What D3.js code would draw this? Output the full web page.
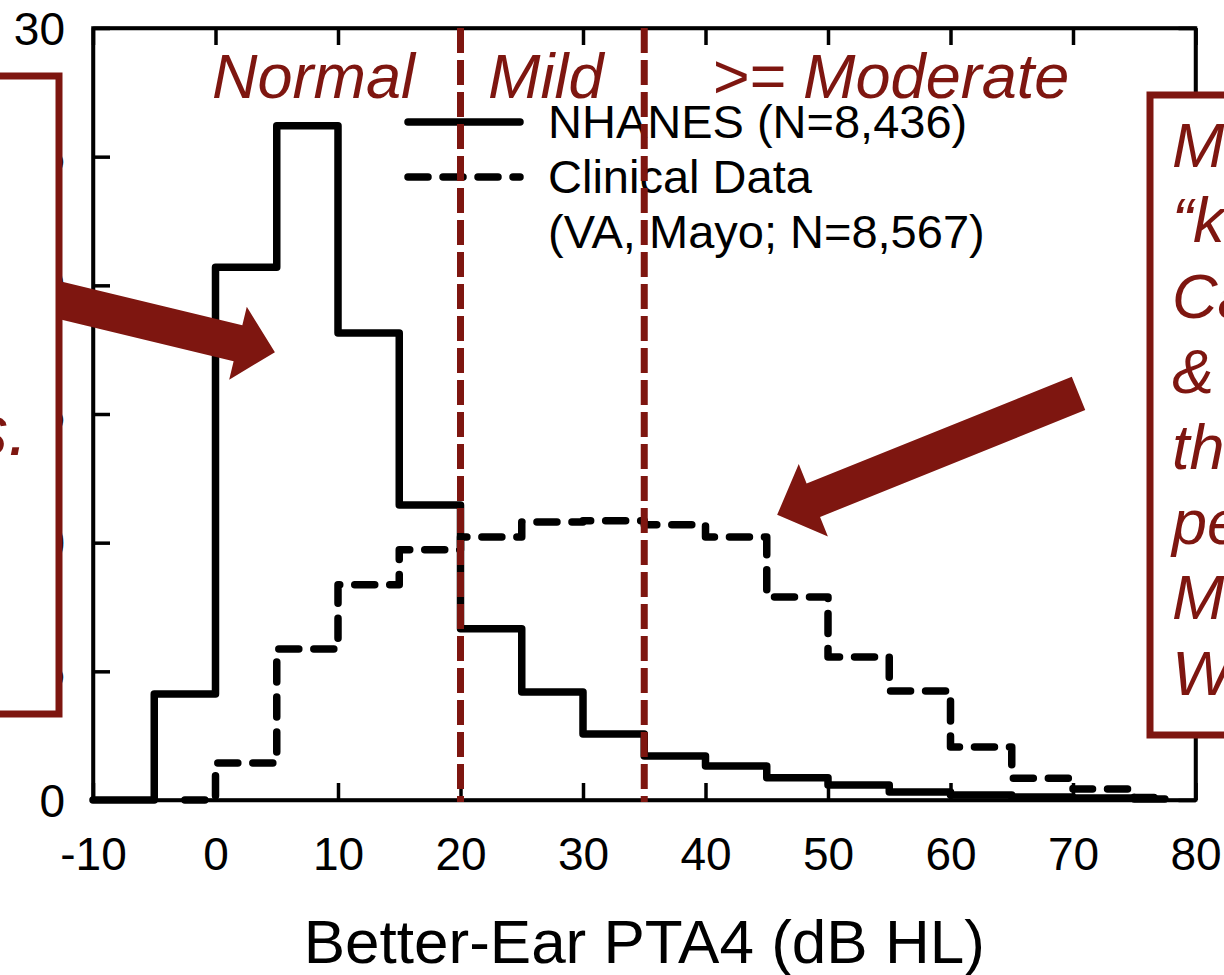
<!DOCTYPE html>
<html>
<head>
<meta charset="utf-8">
<script src="https://cdn.jsdelivr.net/npm/d3@7"></script>
<style>
  html, body { margin: 0; padding: 0; background: #fff; overflow: hidden; }
  svg { display: block; font-family: "Liberation Sans", Arial, Helvetica, sans-serif; }
</style>
</head>
<body>
<svg id="chart" width="1224" height="975"></svg>
<script>
// ---------------- data ----------------
const binStarts = [-10, -5, 0, 5, 10, 15, 20, 25, 30, 35, 40, 45, 50, 55, 60, 65, 70, 75];
const lastEdge = 77.5;
const nhanesPct   = [0, 4.12, 20.7, 26.2, 18.15, 11.46, 6.65, 4.2, 2.56, 1.71, 1.32, 0.86, 0.58, 0.31, 0.19, 0.12, 0.08, 0.04];
const clinicalPct = [null, 0, 1.44, 5.87, 8.36, 9.72, 10.22, 10.8, 10.85, 10.7, 10.22, 7.89, 5.56, 4.24, 2.06, 0.85, 0.43, 0.1];
const nhanesStart = -10;
const clinicalStart = -2.5;
const xTicks = [-10, 0, 10, 20, 30, 40, 50, 60, 70, 80];
const yTicks = [0, 5, 10, 15, 20, 25, 30];
const severityCuts = [20, 35];
const severityLabels = ["Normal", "Mild", ">= Moderate"];
const legendLabels = ["NHANES (N=8,436)", "Clinical Data", "(VA, Mayo; N=8,567)"];
const xTitle = "Better-Ear PTA4 (dB HL)";
const rightBoxLines = ["M", "\u201Ck", "Ca", "&", "th", "pe", "M", "W"];
const leftBoxLines = ["s."];
// arrows in data units [x, y]
const arrowLeft  = { from: [-16, 19.8],  to: [4.85, 17.4] };
const arrowRight = { from: [70.45, 15.8], to: [45.85, 11.08] };

// ---------------- setup ----------------
const RED = "#7E1610";
const svg = d3.select("#chart");
const x = d3.scaleLinear().domain([-10, 80]).range([93, 1195.5]);
const y = d3.scaleLinear().domain([0, 30]).range([800, 28]);
const X0 = x.range()[0], X1 = x.range()[1], Y0 = y.range()[0], Y1 = y.range()[1];

// ---------------- axes frame ----------------
const axisG = svg.append("g");
const tickLen = 17;
const fmt = d => String(d);
const gBottom = axisG.append("g").attr("transform", `translate(0,${Y0})`)
  .call(d3.axisBottom(x).tickValues(xTicks).tickSizeInner(-tickLen).tickSizeOuter(0).tickFormat(fmt));
const gTop = axisG.append("g").attr("transform", `translate(0,${Y1})`)
  .call(d3.axisTop(x).tickValues(xTicks).tickSizeInner(-tickLen).tickSizeOuter(0).tickFormat(""));
const gLeft = axisG.append("g").attr("transform", `translate(${X0},0)`)
  .call(d3.axisLeft(y).tickValues(yTicks).tickSizeInner(-tickLen).tickSizeOuter(0).tickFormat(fmt));
const gRight = axisG.append("g").attr("transform", `translate(${X1},0)`)
  .call(d3.axisRight(y).tickValues(yTicks).tickSizeInner(-tickLen).tickSizeOuter(0).tickFormat(""));
axisG.selectAll(".domain").attr("stroke", "#000").attr("stroke-width", 3.5);
axisG.selectAll(".tick line").attr("stroke", "#000").attr("stroke-width", 3.5);
axisG.selectAll(".tick text").attr("fill", "#000").attr("font-size", 46)
  .attr("font-family", "Liberation Sans, Arial, sans-serif");
gBottom.selectAll(".tick text").attr("dy", null).attr("y", 70);
gLeft.selectAll(".tick text").attr("dy", "0.35em").attr("x", -28);
axisG.append("rect").attr("x", X0).attr("y", Y1).attr("width", X1 - X0).attr("height", Y0 - Y1)
  .attr("fill", "none").attr("stroke", "#000").attr("stroke-width", 3.5);

// axis title
svg.append("text").attr("x", (X0 + X1) / 2).attr("y", 963).attr("text-anchor", "middle")
  .attr("font-size", 62).attr("fill", "#000").text(xTitle);

// ---------------- histograms ----------------
function stepPoints(vals, start) {
  const pts = [];
  binStarts.forEach((b, i) => {
    if (vals[i] === null) return;
    pts.push([Math.max(b, start), vals[i]]);
  });
  pts.push([lastEdge, vals[vals.length - 1]]);
  return pts;
}
const line = d3.line().x(d => x(d[0])).y(d => y(d[1])).curve(d3.curveStepAfter);
svg.append("path").attr("d", line(stepPoints(nhanesPct, nhanesStart)))
  .attr("fill", "none").attr("stroke", "#000").attr("stroke-width", 7.5)
  .attr("stroke-linejoin", "round").attr("stroke-linecap", "round");
svg.append("path").attr("d", line(stepPoints(clinicalPct, clinicalStart)))
  .attr("fill", "none").attr("stroke", "#000").attr("stroke-width", 7.5)
  .attr("stroke-dasharray", "20,15")
  .attr("stroke-linejoin", "round").attr("stroke-linecap", "round");

// ---------------- legend ----------------
const lg = svg.append("g");
lg.append("line").attr("x1", 408).attr("x2", 520).attr("y1", 122).attr("y2", 122)
  .attr("stroke", "#000").attr("stroke-width", 7.5).attr("stroke-linecap", "round");
lg.append("line").attr("x1", 408).attr("x2", 520).attr("y1", 177).attr("y2", 177)
  .attr("stroke", "#000").attr("stroke-width", 7.5).attr("stroke-linecap", "round")
  .attr("stroke-dasharray", "20,15");
const legendY = [138, 193, 248];
legendLabels.forEach((t, i) => {
  lg.append("text").attr("x", 548).attr("y", legendY[i]).attr("font-size", 47)
    .attr("fill", "#000").text(t);
});

// ---------------- severity labels ----------------
const sevX = [212, 488, 712];
severityLabels.forEach((t, i) => {
  svg.append("text").attr("x", sevX[i]).attr("y", 98).attr("font-size", 63)
    .attr("font-style", "italic").attr("fill", RED).text(t);
});

// ---------------- cut lines ----------------
severityCuts.forEach(c => {
  svg.append("line").attr("x1", x(c)).attr("x2", x(c)).attr("y1", Y1).attr("y2", Y0 + 2)
    .attr("stroke", RED).attr("stroke-width", 7).attr("stroke-dasharray", "25,7");
});

// ---------------- arrows ----------------
function arrowPath(a, sw, hw, hl) {
  const p0 = [x(a.from[0]), y(a.from[1])], p1 = [x(a.to[0]), y(a.to[1])];
  const dx = p1[0] - p0[0], dy = p1[1] - p0[1], L = Math.hypot(dx, dy);
  const d = [dx / L, dy / L], n = [-d[1], d[0]];
  const base = [p1[0] - d[0] * hl, p1[1] - d[1] * hl];
  const P = (p, k) => [p[0] + n[0] * k, p[1] + n[1] * k];
  const pts = [P(p0, sw / 2), P(base, sw / 2), P(base, hw / 2), p1, P(base, -hw / 2), P(base, -sw / 2), P(p0, -sw / 2)];
  return "M" + pts.map(p => p.join(",")).join("L") + "Z";
}
svg.append("path").attr("d", arrowPath(arrowLeft, 37, 75, 38)).attr("fill", RED);
svg.append("path").attr("d", arrowPath(arrowRight, 36, 78, 39)).attr("fill", RED);

// ---------------- annotation boxes ----------------
svg.append("rect").attr("x", -20).attr("y", 76).attr("width", 79).attr("height", 638)
  .attr("fill", "#fff").attr("stroke", RED).attr("stroke-width", 7);
leftBoxLines.forEach((t, i) => {
  svg.append("text").attr("x", 28).attr("y", 455).attr("text-anchor", "end")
    .attr("font-size", 72).attr("font-style", "italic").attr("fill", RED).text(t);
});
svg.append("rect").attr("x", 1150).attr("y", 95).attr("width", 120).attr("height", 640)
  .attr("fill", "#fff").attr("stroke", RED).attr("stroke-width", 7);
rightBoxLines.forEach((t, i) => {
  svg.append("text").attr("x", 1172).attr("y", 167 + i * 75.4)
    .attr("font-size", 63).attr("font-style", "italic").attr("fill", RED).text(t);
});
</script>
</body>
</html>
